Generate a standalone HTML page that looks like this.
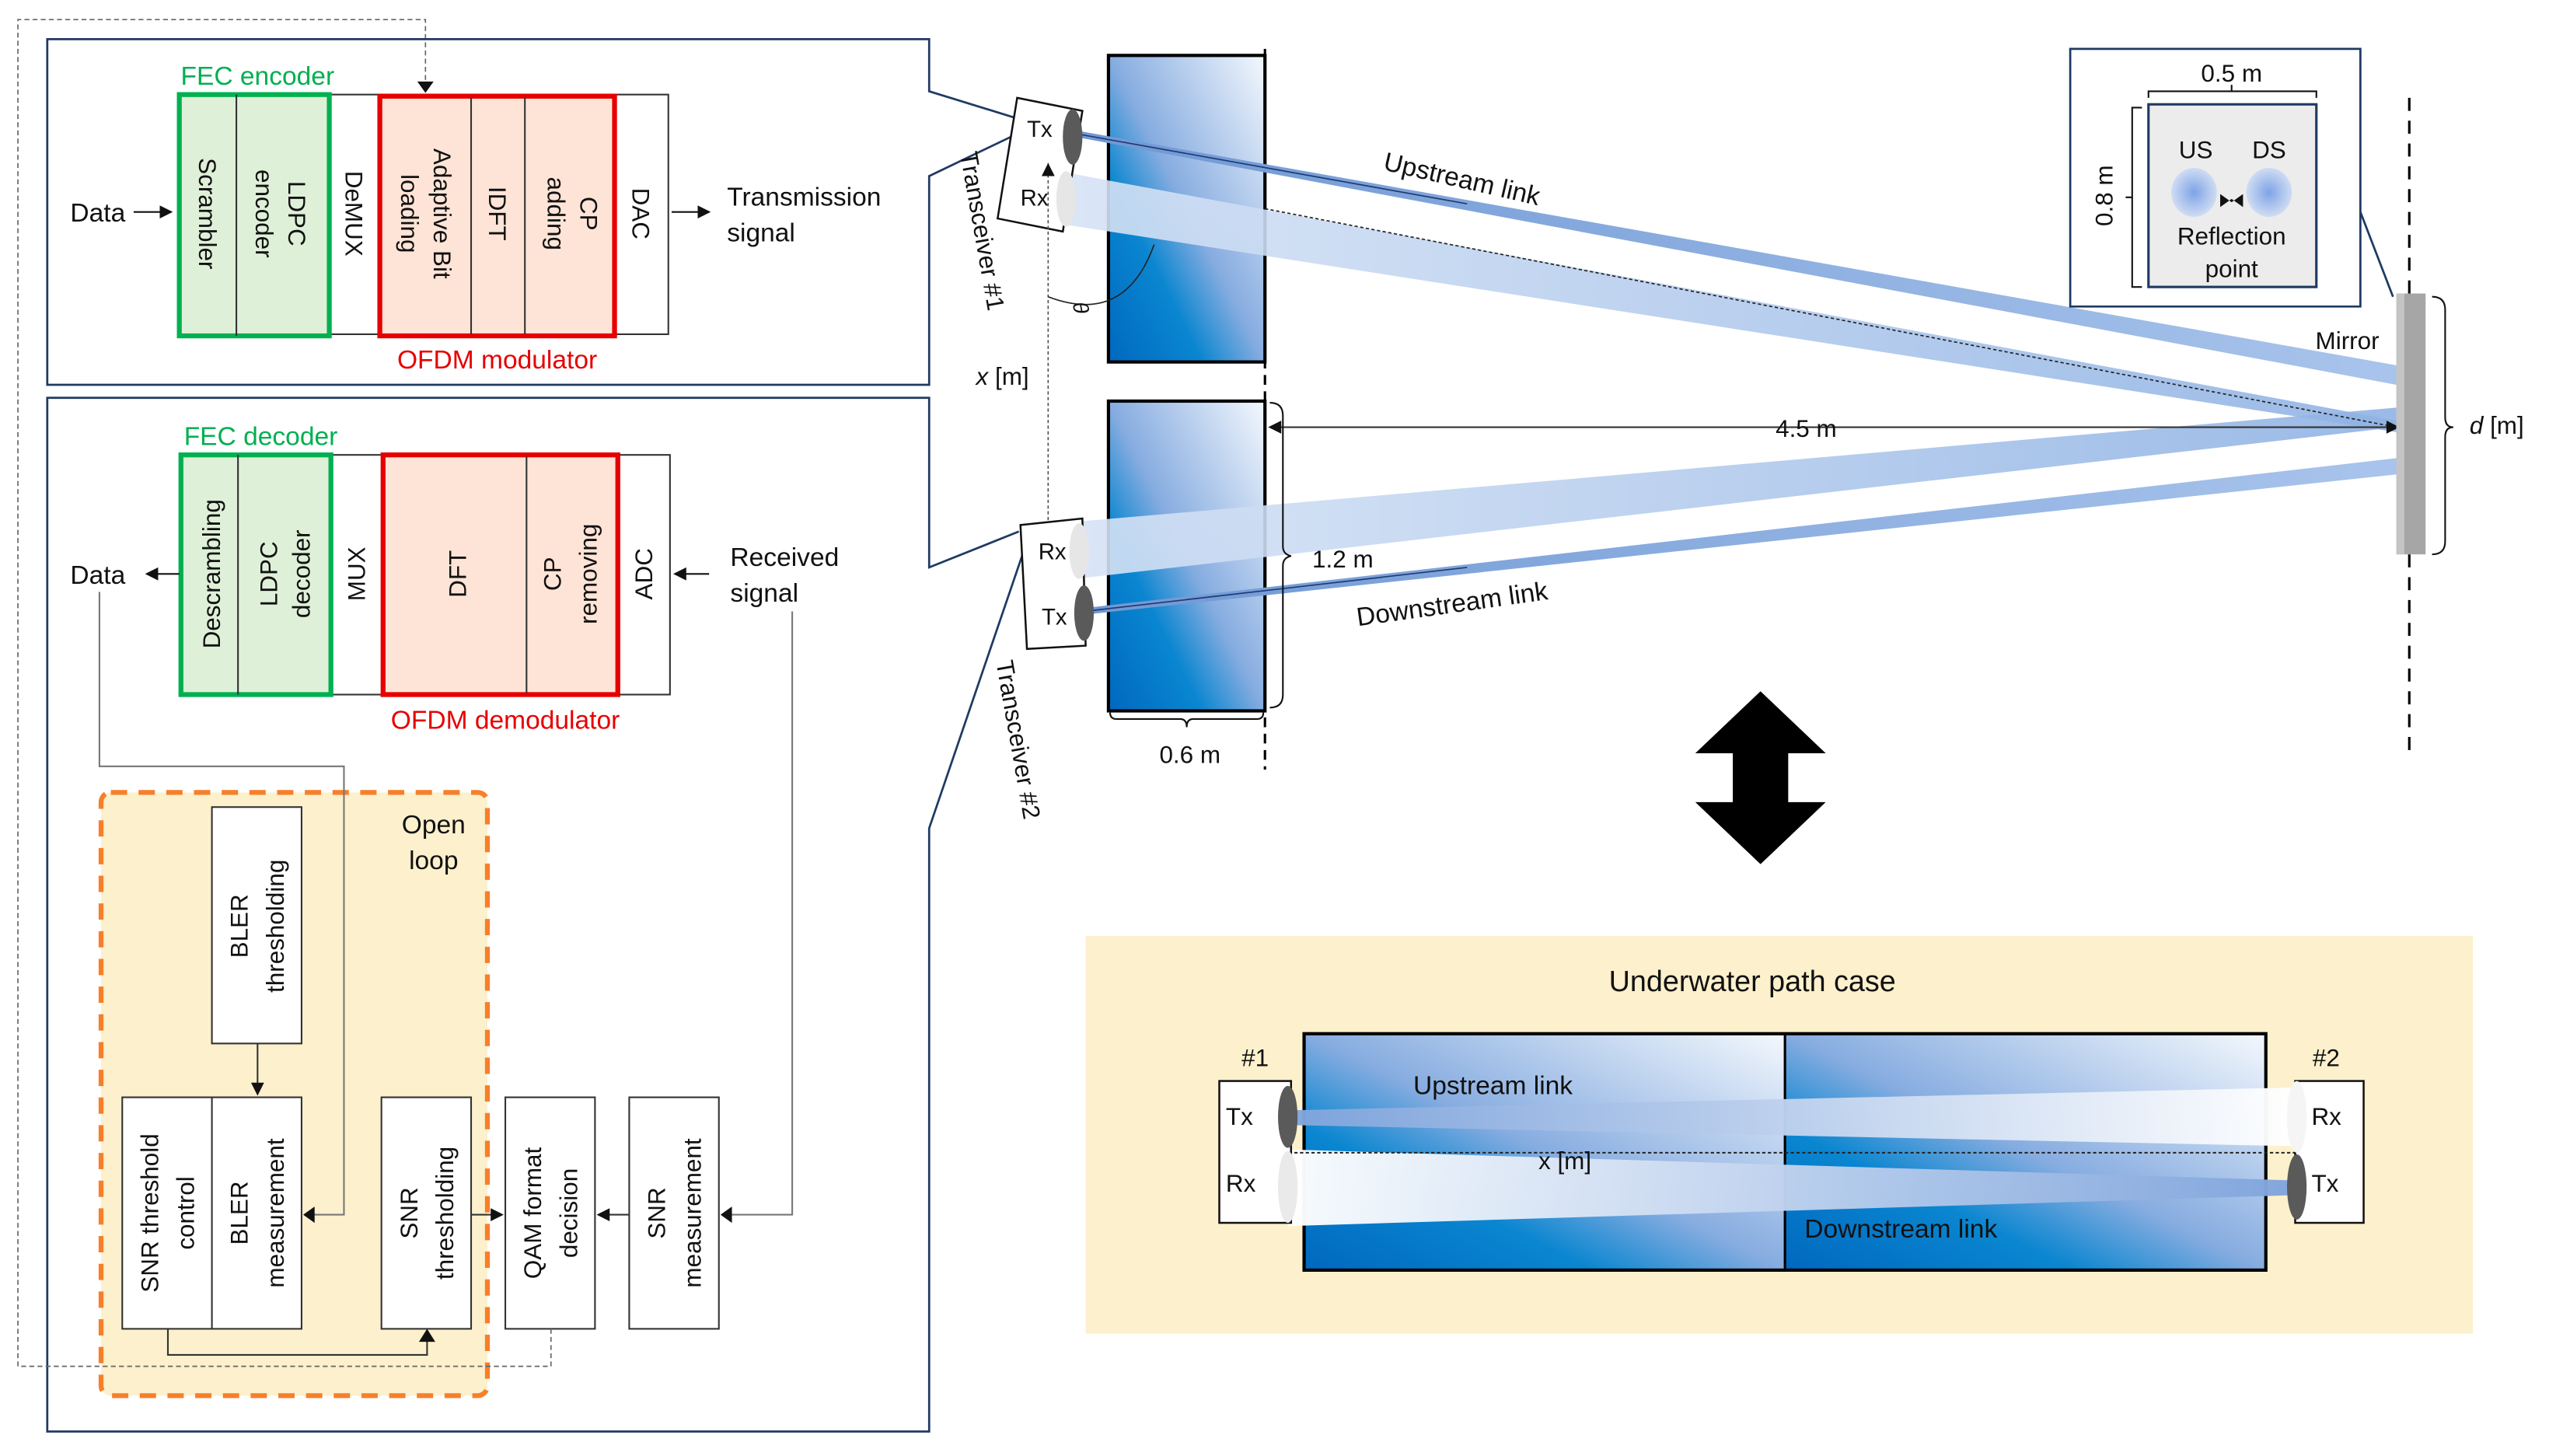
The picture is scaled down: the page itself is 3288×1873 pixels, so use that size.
<!DOCTYPE html>
<html><head><meta charset="utf-8"><style>
html,body{margin:0;padding:0;background:#fff;}
svg{display:block;}
text{font-family:"Liberation Sans",Arial,sans-serif;fill:#111;}
</style></head><body>
<svg width="3288" height="1873" viewBox="0 0 1568 893" preserveAspectRatio="none" xmlns="http://www.w3.org/2000/svg">
<defs>
<linearGradient id="tank" x1="0" y1="1" x2="1" y2="0">
<stop offset="0" stop-color="#0068bf"/><stop offset="0.3" stop-color="#0a86d0"/><stop offset="0.5" stop-color="#86ace0"/><stop offset="1" stop-color="#f4f8fd"/></linearGradient>
<linearGradient id="beamR" x1="0" y1="0" x2="1" y2="0"><stop offset="0" stop-color="#d6e3f5"/><stop offset="1" stop-color="#8fb2e4"/></linearGradient>
<linearGradient id="beamT" x1="0" y1="0" x2="1" y2="0"><stop offset="0" stop-color="#6f98d4"/><stop offset="1" stop-color="#a9c4ec"/></linearGradient>
<linearGradient id="uwL" x1="0" y1="0" x2="1" y2="0"><stop offset="0" stop-color="#7fa4dc"/><stop offset="1" stop-color="#ffffff"/></linearGradient>
<linearGradient id="uwR" x1="1" y1="0" x2="0" y2="0"><stop offset="0" stop-color="#7fa4dc"/><stop offset="1" stop-color="#ffffff"/></linearGradient>
<radialGradient id="spot"><stop offset="0" stop-color="#7ea3e6"/><stop offset="1" stop-color="#cfdcf3"/></radialGradient>
<marker id="ar" markerWidth="8" markerHeight="8" refX="7" refY="4" orient="auto" markerUnits="userSpaceOnUse"><path d="M0,0 L8,4 L0,8 z" fill="#111"/></marker>
</defs>

<path d="M11,838 V12 H261 V52" fill="none" stroke="#666" stroke-width="0.8" stroke-dasharray="3,2"/>
<path d="M256,50 L261,57 L266,50 z" fill="#111"/>

<polyline points="622,72 570,56 570,24 29,24 29,236 570,236 570,108 620,84" fill="none" stroke="#1f3a63" stroke-width="1.3"/>
<polyline points="625,326 570,348 570,244 29,244 29,878 570,878 570,508 628,338" fill="none" stroke="#1f3a63" stroke-width="1.3"/>

<rect x="202" y="58" width="208" height="147" fill="#fff" stroke="#333" stroke-width="1"/>
<rect x="110" y="58" width="92" height="148" fill="#dff0d8" stroke="#00b050" stroke-width="3"/>
<line x1="145" y1="58" x2="145" y2="206" stroke="#333"/>
<rect x="233" y="59" width="144" height="147" fill="#fde4d6" stroke="#e60000" stroke-width="3"/>
<line x1="289" y1="60" x2="289" y2="205" stroke="#333"/><line x1="322" y1="60" x2="322" y2="205" stroke="#333"/>
<g font-size="15">
<text transform="translate(122,131) rotate(90)" text-anchor="middle">Scrambler</text>
<text transform="translate(177,131) rotate(90)" text-anchor="middle">LDPC</text>
<text transform="translate(157,131) rotate(90)" text-anchor="middle">encoder</text>
<text transform="translate(212,131) rotate(90)" text-anchor="middle">DeMUX</text>
<text transform="translate(266,131) rotate(90)" text-anchor="middle">Adaptive Bit</text>
<text transform="translate(246,131) rotate(90)" text-anchor="middle">loading</text>
<text transform="translate(300,131) rotate(90)" text-anchor="middle">IDFT</text>
<text transform="translate(356,131) rotate(90)" text-anchor="middle">CP</text>
<text transform="translate(336,131) rotate(90)" text-anchor="middle">adding</text>
<text transform="translate(388,131) rotate(90)" text-anchor="middle">DAC</text>
</g>
<text x="158" y="52" font-size="16" text-anchor="middle" style="fill:#00b050">FEC encoder</text>
<text x="305" y="226" font-size="16" text-anchor="middle" style="fill:#e60000">OFDM modulator</text>
<text x="60" y="136" font-size="16" text-anchor="middle">Data</text>
<line x1="82" y1="130" x2="105" y2="130" stroke="#111" marker-end="url(#ar)"/>
<line x1="412" y1="130" x2="435" y2="130" stroke="#111" marker-end="url(#ar)"/>
<text x="446" y="126" font-size="16">Transmission</text>
<text x="446" y="148" font-size="16">signal</text>

<rect x="203" y="279" width="208" height="147" fill="#fff" stroke="#333" stroke-width="1"/>
<rect x="111" y="279" width="92" height="147" fill="#dff0d8" stroke="#00b050" stroke-width="3"/>
<line x1="146" y1="279" x2="146" y2="426" stroke="#333"/>
<rect x="235" y="279" width="144" height="147" fill="#fde4d6" stroke="#e60000" stroke-width="3"/>
<line x1="323" y1="280" x2="323" y2="425" stroke="#333"/>
<g font-size="15">
<text transform="translate(135,352) rotate(-90)" text-anchor="middle">Descrambling</text>
<text transform="translate(170,352) rotate(-90)" text-anchor="middle">LDPC</text>
<text transform="translate(190,352) rotate(-90)" text-anchor="middle">decoder</text>
<text transform="translate(224,352) rotate(-90)" text-anchor="middle">MUX</text>
<text transform="translate(286,352) rotate(-90)" text-anchor="middle">DFT</text>
<text transform="translate(344,352) rotate(-90)" text-anchor="middle">CP</text>
<text transform="translate(366,352) rotate(-90)" text-anchor="middle">removing</text>
<text transform="translate(400,352) rotate(-90)" text-anchor="middle">ADC</text>
</g>
<text x="160" y="273" font-size="16" text-anchor="middle" style="fill:#00b050">FEC decoder</text>
<text x="310" y="447" font-size="16" text-anchor="middle" style="fill:#e60000">OFDM demodulator</text>
<text x="60" y="358" font-size="16" text-anchor="middle">Data</text>
<line x1="110" y1="352" x2="90" y2="352" stroke="#111" marker-end="url(#ar)"/>
<line x1="435" y1="352" x2="414" y2="352" stroke="#111" marker-end="url(#ar)"/>
<text x="448" y="347" font-size="16">Received</text>
<text x="448" y="369" font-size="16">signal</text>

<rect x="62" y="486" width="237" height="370" rx="6" fill="#fdf0cc" stroke="#f77f2a" stroke-width="3" stroke-dasharray="10,7"/>
<text x="266" y="511" font-size="16" text-anchor="middle">Open</text>
<text x="266" y="533" font-size="16" text-anchor="middle">loop</text>
<path d="M61,363 V470 H211 V745 H190" fill="none" stroke="#777" stroke-width="1"/>
<path d="M193,740 L186,745 L193,750 z" fill="#111"/>
<path d="M486,375 V745 H446" fill="none" stroke="#777" stroke-width="1"/>
<path d="M449,740 L442,745 L449,750 z" fill="#111"/>
<g fill="#fff" stroke="#333" stroke-width="1">
<rect x="130" y="495" width="55" height="145"/>
<rect x="75" y="673" width="110" height="142"/>
<rect x="234" y="673" width="55" height="142"/>
<rect x="310" y="673" width="55" height="142"/>
<rect x="386" y="673" width="55" height="142"/>
</g>
<line x1="130" y1="673" x2="130" y2="815" stroke="#333"/>
<g font-size="15">
<text transform="translate(152,568) rotate(-90)" text-anchor="middle">BLER</text>
<text transform="translate(174,568) rotate(-90)" text-anchor="middle">thresholding</text>
<text transform="translate(97,744) rotate(-90)" text-anchor="middle">SNR threshold</text>
<text transform="translate(119,744) rotate(-90)" text-anchor="middle">control</text>
<text transform="translate(152,744) rotate(-90)" text-anchor="middle">BLER</text>
<text transform="translate(174,744) rotate(-90)" text-anchor="middle">measurement</text>
<text transform="translate(256,744) rotate(-90)" text-anchor="middle">SNR</text>
<text transform="translate(278,744) rotate(-90)" text-anchor="middle">thresholding</text>
<text transform="translate(332,744) rotate(-90)" text-anchor="middle">QAM format</text>
<text transform="translate(354,744) rotate(-90)" text-anchor="middle">decision</text>
<text transform="translate(408,744) rotate(-90)" text-anchor="middle">SNR</text>
<text transform="translate(430,744) rotate(-90)" text-anchor="middle">measurement</text>
</g>
<line x1="158" y1="640" x2="158" y2="671" stroke="#333" marker-end="url(#ar)"/>
<line x1="289" y1="745" x2="308" y2="745" stroke="#333" marker-end="url(#ar)"/>
<line x1="386" y1="745" x2="367" y2="745" stroke="#333" marker-end="url(#ar)"/>
<path d="M103,815 V831 H262 V820" fill="none" stroke="#333"/>
<path d="M257,823 L262,815 L267,823 z" fill="#111"/>
<path d="M338,815 V838 H11" fill="none" stroke="#666" stroke-width="0.8" stroke-dasharray="3,2"/>

<rect x="680" y="34" width="96" height="188" fill="url(#tank)" stroke="#000" stroke-width="2"/>
<rect x="680" y="246" width="96" height="190" fill="url(#tank)" stroke="#000" stroke-width="2"/>
<line x1="776" y1="30" x2="776" y2="472" stroke="#000" stroke-width="1.5" stroke-dasharray="6,4"/>
<line x1="1478" y1="60" x2="1478" y2="466" stroke="#000" stroke-width="1.5" stroke-dasharray="8,6"/>

<polygon points="655,106 655,138 1470,265 1470,258" fill="url(#beamR)" opacity="0.9"/>
<polygon points="660,320 660,355 1470,262 1470,250" fill="url(#beamR)" opacity="0.9"/>
<polygon points="660,80 660,84 1470,236 1470,224" fill="url(#beamT)"/>
<polygon points="665,373 665,377 1470,291 1470,281" fill="url(#beamT)"/>
<line x1="660" y1="82" x2="900" y2="125" stroke="#1f3a73" stroke-width="0.8"/>
<line x1="665" y1="375" x2="900" y2="348" stroke="#1f3a73" stroke-width="0.8"/>
<line x1="776" y1="128" x2="1470" y2="262" stroke="#222" stroke-width="0.8" stroke-dasharray="2,1.5"/>

<polygon points="624,60 664,68 652,142 612,134" fill="#fff" stroke="#111" stroke-width="1.2"/>
<ellipse cx="658" cy="84" rx="6" ry="17" fill="#5a5a5a"/>
<ellipse cx="654" cy="122" rx="6" ry="17" fill="#e6e6e6"/>
<text x="630" y="84" font-size="14">Tx</text>
<text x="626" y="126" font-size="14">Rx</text>
<line x1="643" y1="100" x2="643" y2="320" stroke="#555" stroke-width="0.8" stroke-dasharray="2,1.5"/>
<path d="M639,108 L643,100 L647,108 z" fill="#111"/>
<path d="M639,352 L643,360 L647,352 z" fill="#111"/>
<path d="M643,182 Q690,200 708,150" fill="none" stroke="#222" stroke-width="0.8"/>
<text transform="translate(658,186) rotate(80)" font-size="13" font-style="italic">θ</text>
<text transform="translate(589,94) rotate(80)" font-size="15">Transceiver #1</text>
<text x="615" y="236" font-size="15" text-anchor="middle"><tspan font-style="italic">x</tspan> [m]</text>

<polygon points="626,322 664,318 666,396 630,398" fill="#fff" stroke="#111" stroke-width="1.2"/>
<ellipse cx="662" cy="338" rx="6" ry="17" fill="#e6e6e6"/>
<ellipse cx="665" cy="376" rx="6" ry="17" fill="#5a5a5a"/>
<text x="637" y="343" font-size="14">Rx</text>
<text x="639" y="383" font-size="14">Tx</text>
<text transform="translate(611,406) rotate(80)" font-size="15">Transceiver #2</text>

<text transform="translate(848,104) rotate(13)" font-size="16">Upstream link</text>
<text transform="translate(833,384) rotate(-8)" font-size="16">Downstream link</text>
<line x1="780" y1="262" x2="1470" y2="262" stroke="#333" stroke-width="1"/>
<path d="M786,258 L778,262 L786,266 z" fill="#111"/><path d="M1464,258 L1472,262 L1464,266 z" fill="#111"/>
<text x="1108" y="268" font-size="15" text-anchor="middle">4.5 m</text>
<path d="M779,247 Q787,247 787,255 V335 Q787,340 792,341 Q787,342 787,347 V426 Q787,434 779,434" fill="none" stroke="#111" stroke-width="1"/>
<text x="805" y="348" font-size="15">1.2 m</text>
<path d="M681,437 Q681,441 685,441 H724 Q728,441 728,446 Q728,441 732,441 H771 Q775,441 775,437" fill="none" stroke="#111" stroke-width="1"/>
<text x="730" y="468" font-size="15" text-anchor="middle">0.6 m</text>

<rect x="1470" y="180" width="18" height="160" fill="#a6a6a6"/>
<rect x="1470" y="180" width="5" height="160" fill="#c4c4c4"/>
<text x="1440" y="214" font-size="15" text-anchor="middle">Mirror</text>
<path d="M1492,182 Q1500,182 1500,190 V256 Q1500,262 1505,262 Q1500,262 1500,268 V332 Q1500,340 1492,340" fill="none" stroke="#111" stroke-width="1"/>
<text x="1515" y="266" font-size="15"><tspan font-style="italic">d</tspan> [m]</text>

<path d="M1270,30 H1448 V188 H1270 Z" fill="#fff" stroke="#1f3a63" stroke-width="1.3"/>
<line x1="1448" y1="130" x2="1468" y2="182" stroke="#1f3a63" stroke-width="1.3"/>
<rect x="1318" y="64" width="103" height="112" fill="#ececec" stroke="#1f3a63" stroke-width="1.5"/>
<path d="M1318,60 V56 H1421 V60 M1369,56 V52" fill="none" stroke="#111"/>
<text x="1369" y="50" font-size="15" text-anchor="middle">0.5 m</text>
<path d="M1314,66 H1308 V176 H1314 M1308,121 H1304" fill="none" stroke="#111"/>
<text transform="translate(1296,120) rotate(-90)" font-size="15" text-anchor="middle">0.8 m</text>
<text x="1347" y="97" font-size="15" text-anchor="middle">US</text>
<text x="1392" y="97" font-size="15" text-anchor="middle">DS</text>
<ellipse cx="1346" cy="118" rx="14" ry="15" fill="url(#spot)"/>
<ellipse cx="1392" cy="118" rx="14" ry="15" fill="url(#spot)"/>
<path d="M1362,119 L1369,124 L1376,119 L1376,127 L1369,122 L1362,127 z" fill="#111"/>
<text x="1369" y="150" font-size="15" text-anchor="middle">Reflection</text>
<text x="1369" y="170" font-size="15" text-anchor="middle">point</text>

<polygon points="1080,424 1120,462 1097,462 1097,492 1120,492 1080,530 1040,492 1063,492 1063,462 1040,462" fill="#000"/>

<rect x="666" y="574" width="851" height="244" fill="#fdf0cc"/>
<text x="1075" y="608" font-size="18" text-anchor="middle">Underwater path case</text>
<rect x="800" y="634" width="295" height="145" fill="url(#tank)"/>
<rect x="1095" y="634" width="295" height="145" fill="url(#tank)"/>
<rect x="800" y="634" width="590" height="145" fill="none" stroke="#000" stroke-width="2"/>
<line x1="1095" y1="634" x2="1095" y2="779" stroke="#000" stroke-width="1.5"/>
<polygon points="790,681 790,690 1408,703 1408,667" fill="url(#uwL)" opacity="0.97"/>
<polygon points="790,705 790,752 1408,733 1408,724" fill="url(#uwR)" opacity="0.97"/>
<line x1="752" y1="707" x2="1428" y2="707" stroke="#222" stroke-width="0.9" stroke-dasharray="2,1.5"/>
<path d="M758,703 L750,707 L758,711 z" fill="#111"/><path d="M1422,703 L1430,707 L1422,711 z" fill="#111"/>
<text x="960" y="717" font-size="15" text-anchor="middle">x [m]</text>
<text x="867" y="671" font-size="16">Upstream link</text>
<text x="1107" y="759" font-size="16">Downstream link</text>
<rect x="748" y="663" width="44" height="87" fill="#fff" stroke="#111" stroke-width="1.2"/>
<rect x="1408" y="663" width="42" height="87" fill="#fff" stroke="#111" stroke-width="1.2"/>
<ellipse cx="790" cy="685" rx="6" ry="19" fill="#5a5a5a"/>
<ellipse cx="790" cy="728" rx="6" ry="22" fill="#eaeaea"/>
<ellipse cx="1409" cy="685" rx="6" ry="22" fill="#f5f5f5"/>
<ellipse cx="1409" cy="728" rx="6" ry="20" fill="#5a5a5a"/>
<text x="752" y="690" font-size="15">Tx</text>
<text x="752" y="731" font-size="15">Rx</text>
<text x="1418" y="690" font-size="15">Rx</text>
<text x="1418" y="731" font-size="15">Tx</text>
<text x="770" y="654" font-size="15" text-anchor="middle">#1</text>
<text x="1427" y="654" font-size="15" text-anchor="middle">#2</text>
</svg>
</body></html>
